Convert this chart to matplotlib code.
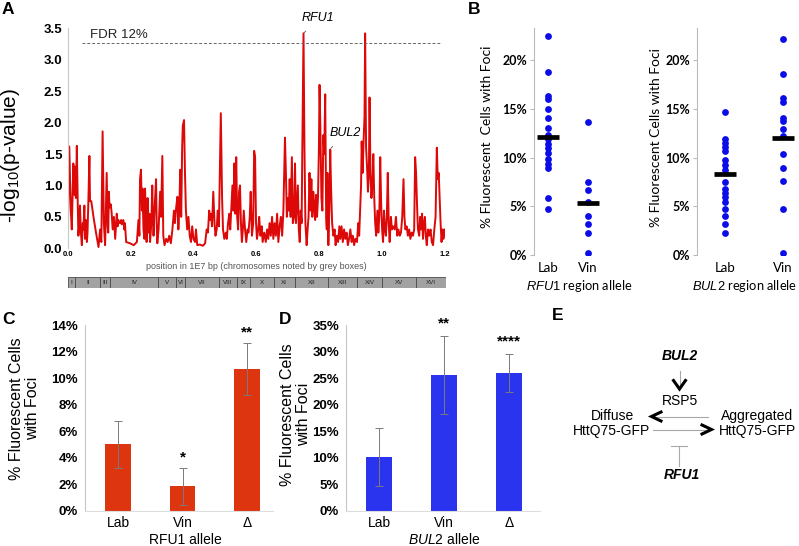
import numpy as np
import matplotlib
matplotlib.use('Agg')
from matplotlib import pyplot as plt

plt.rcParams['font.family'] = ['Liberation Sans', 'DejaVu Sans']
plt.rcParams['mathtext.fontset'] = 'custom'
plt.rcParams['mathtext.rm'] = 'Liberation Sans'
plt.rcParams['mathtext.it'] = 'Liberation Sans:italic'
plt.rcParams['mathtext.bf'] = 'Liberation Sans:bold'

# ---- panel A: QTL scan, position in 1E7 bp vs -log10(p)
qtl_pos = [0.000, 0.005, 0.010, 0.013, 0.018, 0.021, 0.024, 0.026, 0.029, 0.032, 0.034, 0.037, 0.039, 0.042,
           0.045, 0.048, 0.050, 0.053, 0.055, 0.058, 0.061, 0.063, 0.066, 0.069, 0.071, 0.075, 0.082, 0.090,
           0.098, 0.103, 0.107, 0.111, 0.115, 0.119, 0.124, 0.127, 0.129, 0.131, 0.133, 0.137, 0.140, 0.143,
           0.147, 0.151, 0.156, 0.159, 0.161, 0.166, 0.170, 0.172, 0.177, 0.180, 0.182, 0.186, 0.198, 0.210,
           0.220, 0.225, 0.228, 0.230, 0.233, 0.236, 0.238, 0.241, 0.244, 0.246, 0.249, 0.251, 0.254, 0.257,
           0.260, 0.262, 0.266, 0.269, 0.271, 0.273, 0.277, 0.281, 0.283, 0.285, 0.289, 0.294, 0.297, 0.301,
           0.304, 0.308, 0.313, 0.318, 0.323, 0.328, 0.333, 0.338, 0.341, 0.345, 0.349, 0.352, 0.355, 0.358,
           0.361, 0.364, 0.366, 0.370, 0.373, 0.376, 0.380, 0.384, 0.388, 0.392, 0.396, 0.400, 0.405, 0.408,
           0.412, 0.420, 0.430, 0.437, 0.442, 0.446, 0.450, 0.453, 0.456, 0.459, 0.463, 0.467, 0.470, 0.474,
           0.477, 0.481, 0.487, 0.491, 0.494, 0.498, 0.503, 0.506, 0.510, 0.514, 0.517, 0.521, 0.524, 0.527,
           0.530, 0.533, 0.536, 0.539, 0.542, 0.545, 0.548, 0.551, 0.554, 0.557, 0.560, 0.564, 0.568, 0.572,
           0.575, 0.579, 0.582, 0.586, 0.590, 0.593, 0.596, 0.599, 0.602, 0.606, 0.609, 0.613, 0.617, 0.620,
           0.625, 0.630, 0.634, 0.638, 0.642, 0.646, 0.650, 0.654, 0.658, 0.662, 0.666, 0.670, 0.674, 0.678,
           0.682, 0.686, 0.691, 0.694, 0.697, 0.700, 0.703, 0.706, 0.709, 0.713, 0.716, 0.720, 0.723, 0.726,
           0.729, 0.732, 0.735, 0.738, 0.741, 0.744, 0.746, 0.750, 0.753, 0.756, 0.760, 0.763, 0.766, 0.769,
           0.772, 0.775, 0.778, 0.781, 0.784, 0.787, 0.790, 0.793, 0.796, 0.799, 0.801, 0.804, 0.807, 0.810,
           0.813, 0.816, 0.819, 0.822, 0.824, 0.826, 0.829, 0.832, 0.835, 0.838, 0.841, 0.845, 0.849, 0.852,
           0.856, 0.860, 0.864, 0.867, 0.871, 0.875, 0.879, 0.883, 0.887, 0.891, 0.895, 0.899, 0.903, 0.907,
           0.911, 0.915, 0.920, 0.924, 0.927, 0.930, 0.933, 0.935, 0.938, 0.941, 0.944, 0.946, 0.949, 0.952,
           0.955, 0.958, 0.960, 0.963, 0.966, 0.969, 0.972, 0.975, 0.978, 0.981, 0.985, 0.988, 0.991, 0.994,
           0.997, 1.000, 1.003, 1.006, 1.009, 1.012, 1.015, 1.018, 1.021, 1.024, 1.028, 1.031, 1.035, 1.040,
           1.044, 1.048, 1.052, 1.056, 1.060, 1.064, 1.068, 1.071, 1.074, 1.078, 1.082, 1.086, 1.090, 1.094,
           1.098, 1.102, 1.105, 1.108, 1.111, 1.114, 1.118, 1.121, 1.124, 1.127, 1.130, 1.133, 1.136, 1.139,
           1.142, 1.146, 1.150, 1.154, 1.158, 1.162, 1.166, 1.170, 1.174, 1.177, 1.180, 1.183, 1.186, 1.189,
           1.192, 1.195, 1.198, 1.200]
qtl_logp = [0.10, 1.62, 0.60, 0.30, 1.35, 0.85, 1.30, 0.80, 1.63, 0.70, 0.20, 0.40, 0.68, 0.25,
            0.05, 0.40, 0.30, 0.68, 0.15, 0.45, 0.10, 0.25, 0.80, 1.47, 0.75, 0.75, 0.50, 0.25,
            0.02, 0.30, 0.10, 1.86, 0.40, 0.05, 1.20, 0.35, 0.25, 0.90, 0.65, 0.70, 0.55, 0.30,
            0.50, 0.15, 0.55, 0.35, 0.45, 0.40, 0.45, 0.38, 0.45, 0.30, 0.40, 0.10, 0.08, 0.05,
            0.10, 0.45, 0.20, 1.10, 1.25, 0.60, 0.95, 0.30, 0.15, 0.95, 0.40, 0.10, 0.80, 0.25,
            0.55, 0.10, 0.40, 1.00, 0.50, 0.20, 0.70, 1.10, 0.40, 0.08, 0.30, 0.90, 0.50, 1.47,
            0.20, 0.05, 0.15, 0.10, 0.20, 0.08, 0.30, 0.60, 0.40, 0.65, 0.82, 0.30, 0.65, 1.25,
            0.50, 1.60, 1.95, 2.04, 1.20, 0.60, 0.30, 0.50, 0.20, 0.10, 0.35, 0.15, 0.10, 0.30,
            0.05, 0.06, 0.04, 0.08, 0.30, 0.25, 0.60, 0.45, 0.55, 0.35, 0.90, 0.40, 0.20, 0.30,
            0.60, 0.35, 2.15, 0.80, 0.30, 0.15, 0.25, 0.15, 0.40, 0.55, 0.30, 0.70, 1.00, 0.60,
            1.35, 0.55, 1.45, 0.50, 0.30, 0.90, 1.00, 0.40, 0.10, 0.30, 0.60, 0.30, 0.10, 0.30,
            0.25, 0.50, 0.90, 0.20, 0.40, 1.55, 1.45, 0.40, 0.15, 0.30, 0.50, 0.20, 0.35, 0.10,
            0.25, 0.10, 0.30, 0.15, 0.40, 0.20, 0.50, 0.15, 0.40, 0.20, 0.55, 0.10, 0.35, 0.50,
            0.20, 0.60, 1.76, 1.20, 0.50, 0.80, 0.60, 1.10, 0.50, 1.45, 0.40, 0.50, 1.35, 0.40,
            0.70, 1.00, 0.30, 0.10, 0.60, 0.40, 1.50, 3.42, 1.60, 0.40, 0.05, 0.30, 0.50, 1.20,
            0.60, 1.10, 0.50, 0.90, 0.70, 0.45, 0.85, 0.50, 0.80, 1.60, 2.60, 1.80, 0.80, 0.60,
            1.80, 1.50, 2.45, 0.50, 0.30, 1.20, 0.05, 0.60, 1.57, 0.90, 0.40, 0.20, 0.30, 0.05,
            0.20, 0.10, 0.35, 0.15, 0.35, 0.10, 0.30, 0.15, 0.25, 0.05, 0.15, 0.30, 0.10, 0.20,
            0.05, 0.15, 0.10, 0.40, 0.20, 0.60, 1.00, 1.70, 1.20, 1.70, 2.10, 3.42, 1.60, 1.30,
            0.90, 1.20, 2.40, 1.20, 0.80, 1.00, 1.50, 0.80, 0.40, 0.20, 0.60, 0.25, 0.50, 1.45,
            0.70, 0.30, 0.10, 0.60, 0.30, 0.20, 0.50, 1.20, 0.40, 0.10, 0.50, 0.30, 0.35, 0.30,
            0.50, 0.20, 0.30, 0.20, 0.25, 0.50, 1.10, 0.50, 0.30, 0.35, 0.20, 0.30, 0.15, 0.25,
            0.20, 0.30, 1.45, 1.20, 0.70, 0.30, 0.20, 0.50, 0.30, 0.55, 0.15, 0.40, 0.50, 0.20,
            0.05, 0.30, 0.20, 0.30, 0.10, 0.05, 0.30, 0.50, 1.60, 1.10, 1.20, 0.80, 0.40, 0.10,
            0.30, 0.15, 0.30, 0.20]
fdr_cut = 3.27
chrom_names = ['I', 'II', 'III', 'IV', 'V', 'VI', 'VII', 'VIII', 'IX', 'X', 'XI', 'XII', 'XIII', 'XIV', 'XV', 'XVI']
chrom_len = [0.0230, 0.0813, 0.0317, 0.1532, 0.0577, 0.0270, 0.1091, 0.0563,
             0.0440, 0.0746, 0.0667, 0.1078, 0.0924, 0.0784, 0.1091, 0.0948]

# ---- panel B: % cells with foci per segregant, by region allele
rfu_lab = [22.5, 18.8, 16.3, 16.0, 15.0, 14.1, 13.1, 12.3, 11.9, 11.45, 11.0, 10.5, 9.9, 9.4, 8.9, 5.9, 4.7]
rfu_vin = [13.7, 7.5, 6.7, 5.4, 4.0, 3.2, 2.3, 0.25]
rfu_mean = [12.1, 5.3]
bul_lab = [14.7, 11.9, 11.5, 11.1, 10.7, 9.8, 9.3, 8.7, 7.5, 6.8, 6.4, 6.0, 5.4, 4.7, 4.0, 3.2, 2.3]
bul_vin = [22.2, 18.6, 16.1, 15.7, 14.1, 13.8, 13.0, 12.2, 10.4, 8.9, 7.6, 4.7, 0.17]
bul_mean = [8.3, 12.05]

# ---- panels C, D: allele swaps
alleles = ['Lab', 'Vin', '\u0394']
rfu_pct = [5.0, 1.85, 10.7]
rfu_err = [1.8, 1.4, 2.0]
rfu_sig = ['', '*', '**']
bul_pct = [10.2, 25.6, 26.0]
bul_err = [5.5, 7.3, 3.6]
bul_sig = ['', '**', '****']

W, H = 799, 546
RED = '#dc3510'
BLUE = '#2a34ee'
DOT = '#0c0ce8'


def px_axes(fig, left, top, right, bottom):
    return fig.add_axes([left / W, 1 - bottom / H, (right - left) / W, (bottom - top) / H])


def pct_fmt(ticks):
    return ['%d%%' % t for t in ticks]


fig = plt.figure(figsize=(W / 100, H / 100), dpi=100)

# ================= A
ax = px_axes(fig, 67.7, 28.3, 445, 248.3)
ax.plot(qtl_pos, qtl_logp, color='#dd0808', lw=1.4, solid_joinstyle='round')
ax.hlines(fdr_cut, 0.045, 1.185, color='#666666', lw=0.7, linestyles=(0, (3, 2)))
ax.text(0.072, fdr_cut + 0.03, 'FDR 12%', fontsize=9.5, color='#222222', va='bottom')
ax.set_xlim(0, 1.2)
ax.set_ylim(0, 3.5)
yt = np.arange(0, 3.51, 0.5)
ax.set_yticks(yt)
ax.set_yticklabels(['%.1f' % v for v in yt], fontsize=9.5, fontweight='bold')
xt = np.arange(0, 1.21, 0.2)
ax.set_xticks(xt)
ax.set_xticklabels(['%.1f' % v for v in xt], fontsize=5.5, fontweight='bold')
ax.tick_params(length=0, pad=2)
ax.tick_params(axis='y', pad=4)
for s in ['top', 'right', 'bottom']:
    ax.spines[s].set_visible(False)
ax.spines['left'].set_color('#c8c8c8')
ax.set_xlabel('position in 1E7 bp (chromosomes noted by grey boxes)', fontsize=6.5, color='#555555', labelpad=3)
ax.set_ylabel('-log$_{10}$(p-value)', fontsize=15)
ax.yaxis.set_label_coords(-0.12, 0.42)
ax.annotate('RFU1', xy=(0.752, 3.43), xytext=(0.797, 3.66), fontsize=9, style='italic',
            ha='center', va='center', annotation_clip=False,
            arrowprops=dict(arrowstyle='-', color='#555555', lw=0.6, shrinkB=0, shrinkA=4))
ax.annotate('BUL2', xy=(0.837, 1.59), xytext=(0.884, 1.84), fontsize=9, style='italic',
            ha='center', va='center',
            arrowprops=dict(arrowstyle='-', color='#555555', lw=0.6, shrinkB=0, shrinkA=5))

# chromosome boxes
cx = px_axes(fig, 67.7, 277, 445.7, 288)
starts = np.concatenate([[0], np.cumsum(chrom_len)[:-1]])
cx.barh(0, chrom_len, left=starts, height=1, color='#a2a2a2', edgecolor='#4a4a4a', lw=0.6)
for st, ln, nm in zip(starts, chrom_len, chrom_names):
    cx.text(st + ln / 2, 0, nm, fontsize=4.5, ha='center', va='center', color='#222222')
cx.set_xlim(0, sum(chrom_len))
cx.set_ylim(-0.5, 0.5)
cx.axis('off')


# ================= B
def strip_panel(left, right, lab, vin, means, hw, xmin, xmax, gene, lab_x, ylab_x, ylab):
    bx = px_axes(fig, left, 28.3, right, 255)
    for i, vals in enumerate([lab, vin]):
        bx.scatter(np.full(len(vals), i), vals, s=24, color=DOT, lw=0, zorder=3)
        bx.hlines(means[i], i - hw, i + hw, color='black', lw=3.4, zorder=4)
    bx.set_xlim(xmin, xmax)
    bx.set_ylim(0, 23.3)
    bx.set_yticks([0, 5, 10, 15, 20])
    bx.set_yticklabels(pct_fmt([0, 5, 10, 15, 20]), fontsize=9, fontweight='bold', family='Lato')
    bx.set_xticks([0, 1])
    bx.set_xticklabels(['Lab', 'Vin'], fontsize=9.5, family='Lato')
    bx.tick_params(axis='x', length=0, pad=5)
    bx.tick_params(axis='y', length=3, color='#bbbbbb', pad=2)
    for s in ['top', 'right', 'bottom']:
        bx.spines[s].set_visible(False)
    bx.spines['left'].set_color('#bbbbbb')
    bx.text(lab_x, -0.137, '$\\it{%s}$ region allele' % gene, transform=bx.transAxes,
            fontsize=9.3, family='Lato', ha='center', va='center')
    bx.set_ylabel(ylab, fontsize=10, family='Lato')
    bx.yaxis.set_label_coords(ylab_x, 0.52)
    return bx


strip_panel(534, 608, rfu_lab, rfu_vin, rfu_mean, 0.28, -0.35, 1.5, 'RFU1', 0.615, -0.55,
            '% Fluorescent  Cells with Foci')
strip_panel(697.3, 799, bul_lab, bul_vin, bul_mean, 0.19, -0.475, 1.27, 'BUL2', 0.46, -0.35,
            '% Fluorescent Cells with Foci')


# ================= C, D
def bar_panel(left, right, vals, errs, sig, color, ymax, ystep, xmax, xlab, xlab_x, ylab_x, ylab_y, sig_off):
    ax = px_axes(fig, left, 325.3, right, 510.7)
    x = np.arange(len(vals))
    ax.bar(x, vals, width=0.4, color=color, zorder=2)
    ax.errorbar(x, vals, yerr=errs, fmt='none', ecolor='#7a7a7a', elinewidth=0.7, capsize=3,
                capthick=0.7, zorder=3)
    for xi, v, e, s in zip(x, vals, errs, sig):
        if s:
            ax.text(xi, v + e + sig_off, s, ha='center', va='center', fontsize=11, fontweight='bold',
                    clip_on=False)
    ax.set_xlim(-0.51, xmax)
    ax.set_ylim(0, ymax)
    yt = np.arange(0, ymax + 0.01, ystep)
    ax.set_yticks(yt)
    ax.set_yticklabels(pct_fmt(yt), fontsize=9.5, fontweight='bold')
    ax.set_xticks(x)
    ax.set_xticklabels(alleles, fontsize=10)
    ax.tick_params(length=0)
    ax.tick_params(axis='x', pad=4)
    ax.tick_params(axis='y', pad=5)
    for s in ['top', 'right']:
        ax.spines[s].set_visible(False)
    ax.spines['left'].set_color('#c8c8c8')
    ax.spines['bottom'].set_color('#dddddd')
    ax.text(xlab_x, -0.158, xlab, transform=ax.transAxes, fontsize=10, ha='center', va='center')
    ax.set_ylabel('% Fluorescent Cells\nwith Foci', fontsize=11.5, linespacing=1.05)
    ax.yaxis.set_label_coords(ylab_x, ylab_y)
    return ax


bar_panel(85, 273, rfu_pct, rfu_err, rfu_sig, RED, 14, 2, 2.4, 'RFU1 allele', 0.535, -0.24, 0.55, 0.75)
bar_panel(346, 540, bul_pct, bul_err, bul_sig, BLUE, 35, 5, 2.48, '$\\it{BUL2}$ allele', 0.505, -0.18, 0.52, 2.4)

# ================= E  (schematic, drawn in pixel space)
ex = px_axes(fig, 557, 300, 799, 546)
ex.set_xlim(557, 799)
ex.set_ylim(546, 300)
ex.axis('off')
GREY = '#a8a8a8'
ex.text(680, 356, 'BUL2', fontsize=10, fontweight='bold', style='italic', ha='center', va='center')
ex.plot([679.5, 679.5], [371, 387], color=GREY, lw=0.8)
ex.plot([673.5, 679.5, 685.5], [380.5, 389, 380.5], color='black', lw=2.2, solid_joinstyle='miter')
ex.text(680, 401, 'RSP5', fontsize=10, ha='center', va='center')
ex.text(612, 423.5, 'Diffuse\nHttQ75-GFP', fontsize=10, ha='center', va='center', linespacing=1.05)
ex.text(757, 423.5, 'Aggregated\nHttQ75-GFP', fontsize=10, ha='center', va='center', linespacing=1.05)
ex.plot([708, 653], [416.5, 416.5], color=GREY, lw=0.8)
ex.plot([661, 651.5, 661], [412, 416.5, 421], color='black', lw=2.2, solid_joinstyle='miter')
ex.plot([653, 708], [429.5, 429.5], color=GREY, lw=0.8)
ex.plot([702, 711.5, 702], [425, 429.5, 434], color='black', lw=2.2, solid_joinstyle='miter')
ex.plot([670.5, 686.5], [446, 446], color=GREY, lw=0.8)
ex.plot([678.5, 678.5], [446, 466], color=GREY, lw=0.8)
ex.text(681.5, 475, 'RFU1', fontsize=10, fontweight='bold', style='italic', ha='center', va='center')

# panel letters
for letter, (lx, ly) in zip('ABCDE', [(2, 2), (468, 2), (2, 312), (279, 312), (552, 308)]):
    fig.text(lx / W, 1 - ly / H, letter, fontsize=12.5, fontweight='bold', ha='left', va='top')

fig.savefig('out.png', dpi=100)
